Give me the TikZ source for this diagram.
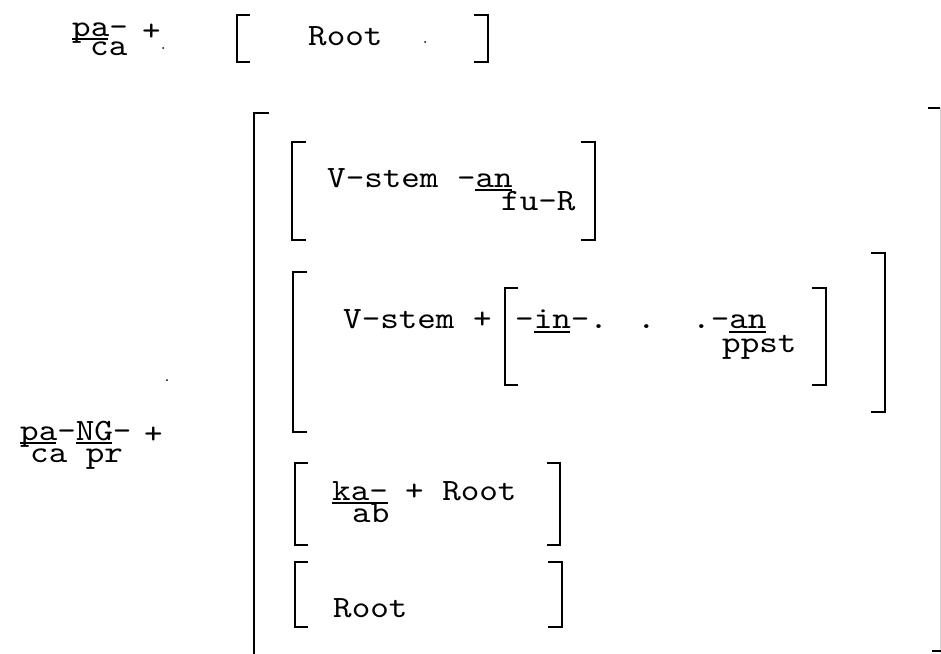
\documentclass[tikz,border=0pt]{standalone}
\usepackage{fontspec}
\setmonofont[FakeStretch=1.14]{lmmono10-regular.otf}
\begin{document}
\begin{tikzpicture}[x=1pt,y=-1pt,
  tw/.style={font=\ttfamily\fontsize{31}{33}\selectfont, inner sep=0pt, anchor=base west},
  brk/.style={line width=2.2pt, line cap=rect},
  thin/.style={line width=0.6pt, gray!35},
  ul/.style={line width=1.4pt}]
\fill[white] (0,0) rectangle (941,653);
\useasboundingbox (0,0) rectangle (941,653);
% top row
\node[tw] (pa) at (72,36) {pa-};
\draw[ul] (72,39) -- (108,39);
\node[tw] (ca) at (90,55) {ca};
\node[tw] (plus0) at (142,40) {+};
\fill (163,48) circle (1pt);
\draw[brk] (249,15) -- (237,15) -- (237,62) -- (249,62);
\node[tw] (root0) at (308,45) {Root};
\fill (425,42) circle (1pt);
\draw[brk] (475,15) -- (488,15) -- (488,62) -- (475,62);
% big bracket
\draw[brk] (268,113) -- (254,113) -- (254,653);
\draw[brk] (929,108) -- (939,108);
\draw[thin] (940,108) -- (940,653);
\draw[brk] (933,651) -- (941,651);
% row 1
\draw[brk] (305,142) -- (292,142) -- (292,240) -- (305,240);
\node[tw] (vs1) at (327,187) {V-stem -an};
\draw[ul] (475,190) -- (512,190);
\node[tw] (fur) at (501,210) {fu-R};
\draw[brk] (582,142) -- (595,142) -- (595,240) -- (582,240);
% row 2
\draw[brk] (306,272) -- (293,272) -- (293,432) -- (306,432);
\node[tw] (vs2) at (343,328) {V-stem +};
\draw[brk] (517,288) -- (505,288) -- (505,385) -- (517,385);
\node[tw] (inan) at (515,328) {-in-.};
\node[tw] (dot2) at (637,328) {.};
\node[tw] (dotan) at (692,328) {.-an};
\draw[ul] (534,332) -- (570,332);
\draw[ul] (729,332) -- (766,332);
\node[tw] (ppst) at (722,352) {ppst};
\draw[brk] (813,288) -- (826,288) -- (826,385) -- (813,385);
\draw[brk] (872,253) -- (885,253) -- (885,412) -- (872,412);
% pa-NG-
\node[tw] (pang) at (20,440) {pa-NG-};
\draw[ul] (20,443) -- (56,443);
\draw[ul] (76,443) -- (112,443);
\node[tw] (capr) at (30,462) {ca pr};
\node[tw] (plus1) at (144,443) {+};
\fill (167,380) circle (1pt);
% row 3
\draw[brk] (307,463) -- (295,463) -- (295,545) -- (307,545);
\node[tw] (ka) at (332,500) {ka-};
\draw[ul] (332,503) -- (388,503);
\node[tw] (ab) at (352,522) {ab};
\node[tw] (root3) at (405,500) {+ Root};
\draw[brk] (548,463) -- (560,463) -- (560,545) -- (548,545);
% row 4
\draw[brk] (307,562) -- (295,562) -- (295,627) -- (307,627);
\node[tw] (root4) at (333,617) {Root};
\draw[brk] (549,562) -- (562,562) -- (562,627) -- (549,627);
\end{tikzpicture}
\end{document}
